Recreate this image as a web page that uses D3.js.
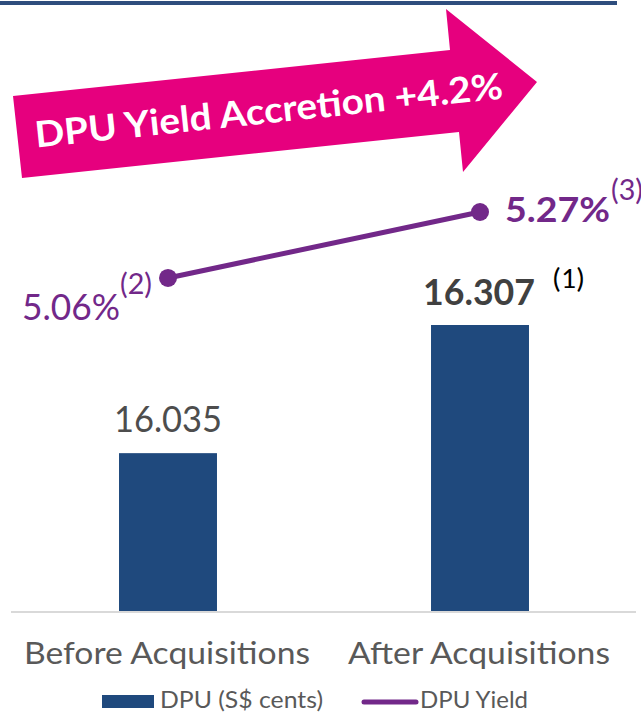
<!DOCTYPE html>
<html>
<head>
<meta charset="utf-8">
<script src="https://cdn.jsdelivr.net/npm/d3@7"></script>
<style>
  body { margin: 0; background: #fff; }
  svg { display: block; font-family: Lato, "Open Sans", sans-serif; }
</style>
</head>
<body>
<div class="graph"></div>
<script>
// chart data
var categories = ["Before Acquisitions", "After Acquisitions"];
var dpuValues = [16.035, 16.307];
var dpuLabels = ["16.035", "16.307"];
var yieldValues = [5.06, 5.27];
var yieldLabels = ["5.06%", "5.27%"];
var yieldNotes = ["(2)", "(3)"];
var legendNames = ["DPU (S$ cents)", "DPU Yield"];

var w = 641;
var h = 713;
var barColor = "#1f497d";
var lineColor = "#722889";

var svg = d3.select("div.graph")
  .append("svg")
  .attr("width", w)
  .attr("height", h);

// top rule
svg.append("rect")
  .attr("x", 0).attr("y", 1)
  .attr("width", 617).attr("height", 4)
  .attr("fill", "#2e4d7d");

var x = d3.scaleBand().domain(categories).range([12, 636]);
var y = d3.scaleLinear().domain([15.7, 16.307]).range([611, 325]);   // DPU axis (hidden)
var y2 = d3.scaleLinear().domain([4.0, 5.27]).range([611, 212]);     // yield axis (hidden)
var barW = x.bandwidth() * 0.314;
function cx(d) { return x(d) + x.bandwidth() / 2; }

// bars
svg.selectAll("rect.bar")
  .data(dpuValues)
  .enter()
  .append("rect")
  .attr("class", "bar")
  .attr("x", function(d, i) { return cx(categories[i]) - barW / 2; })
  .attr("y", function(d) { return y(d); })
  .attr("width", barW)
  .attr("height", function(d) { return y.range()[0] - y(d); })
  .attr("fill", barColor);

// baseline
svg.append("line")
  .attr("x1", 11).attr("x2", 636)
  .attr("y1", 612).attr("y2", 612)
  .attr("stroke", "#d9d9d9").attr("stroke-width", 2);

// bar labels
svg.selectAll("text.dpu")
  .data(dpuValues)
  .enter()
  .append("text")
  .attr("class", "dpu")
  .attr("x", function(d, i) { return cx(categories[i]) + (i == 1 ? -1 : 0); })
  .attr("y", function(d) { return y(d) - (d > 16.1 ? 20 : 21); })
  .attr("text-anchor", "middle")
  .attr("font-size", 36)
  .attr("font-weight", function(d, i) { return i == 1 ? "bold" : "normal"; })
  .attr("fill", function(d, i) { return i == 1 ? "#404040" : "#4d4d4d"; })
  .attr("textLength", function(d, i) { return i == 1 ? 112 : 108; })
  .attr("lengthAdjust", "spacingAndGlyphs")
  .text(function(d, i) { return dpuLabels[i]; });

svg.append("text")
  .attr("x", 552).attr("y", 288)
  .attr("font-family", "Carlito, 'Liberation Sans', sans-serif")
  .attr("font-size", 28)
  .attr("fill", "#000")
  .attr("textLength", 33)
  .attr("lengthAdjust", "spacingAndGlyphs")
  .text("(1)");

// yield line
var line = d3.line()
  .x(function(d, i) { return cx(categories[i]); })
  .y(function(d) { return y2(d); });

svg.append("path")
  .datum(yieldValues)
  .attr("d", line)
  .attr("fill", "none")
  .attr("stroke", lineColor)
  .attr("stroke-width", 5);

svg.selectAll("circle.pt")
  .data(yieldValues)
  .enter()
  .append("circle")
  .attr("class", "pt")
  .attr("cx", function(d, i) { return cx(categories[i]); })
  .attr("cy", function(d) { return y2(d); })
  .attr("r", 9)
  .attr("fill", lineColor);

// yield labels
svg.append("text")
  .attr("x", 22).attr("y", y2(yieldValues[0]) + 42)
  .attr("font-size", 36)
  .attr("fill", lineColor)
  .attr("textLength", 98)
  .attr("lengthAdjust", "spacingAndGlyphs")
  .text(yieldLabels[0]);
svg.append("text")
  .attr("x", 120).attr("y", y2(yieldValues[0]) + 16)
  .attr("font-size", 28)
  .attr("fill", lineColor)
  .attr("textLength", 32)
  .attr("lengthAdjust", "spacingAndGlyphs")
  .text(yieldNotes[0]);

svg.append("text")
  .attr("x", 505).attr("y", y2(yieldValues[1]) + 10)
  .attr("font-size", 35)
  .attr("font-weight", "bold")
  .attr("fill", lineColor)
  .attr("textLength", 105)
  .attr("lengthAdjust", "spacingAndGlyphs")
  .text(yieldLabels[1]);
svg.append("text")
  .attr("x", 611).attr("y", y2(yieldValues[1]) - 12)
  .attr("font-size", 28)
  .attr("fill", lineColor)
  .attr("textLength", 32)
  .attr("lengthAdjust", "spacingAndGlyphs")
  .text(yieldNotes[1]);

// category labels
svg.selectAll("text.cat")
  .data(categories)
  .enter()
  .append("text")
  .attr("class", "cat")
  .attr("x", function(d) { return cx(d) - 1; })
  .attr("y", 664)
  .attr("text-anchor", "middle")
  .attr("font-size", 31)
  .attr("fill", "#595959")
  .attr("textLength", function(d, i) { return i == 0 ? 286 : 262; })
  .attr("lengthAdjust", "spacingAndGlyphs")
  .text(function(d) { return d; });

// legend
svg.append("rect")
  .attr("x", 102).attr("y", 695)
  .attr("width", 52).attr("height", 13)
  .attr("fill", barColor);
svg.append("text")
  .attr("x", 160).attr("y", 708)
  .attr("font-size", 23)
  .attr("fill", "#595959")
  .attr("textLength", 163)
  .attr("lengthAdjust", "spacingAndGlyphs")
  .text(legendNames[0]);
svg.append("line")
  .attr("x1", 364).attr("x2", 416)
  .attr("y1", 702).attr("y2", 702)
  .attr("stroke", lineColor)
  .attr("stroke-width", 5)
  .attr("stroke-linecap", "round");
svg.append("text")
  .attr("x", 420).attr("y", 708)
  .attr("font-size", 23)
  .attr("fill", "#595959")
  .attr("textLength", 108)
  .attr("lengthAdjust", "spacingAndGlyphs")
  .text(legendNames[1]);

// pink arrow callout
var arrowPts = [[13, 96], [450, 50], [446, 9], [537, 82], [463, 172], [459, 132], [22, 178]];
svg.append("polygon")
  .attr("points", arrowPts.map(function(p) { return p.join(","); }).join(" "))
  .attr("fill", "#e6007e");

svg.append("text")
  .attr("transform", "translate(270,123) rotate(-6)")
  .attr("text-anchor", "middle")
  .attr("font-size", 36)
  .attr("font-weight", "bold")
  .attr("fill", "#fff")
  .attr("textLength", 470)
  .attr("lengthAdjust", "spacingAndGlyphs")
  .text("DPU Yield Accretion +4.2%");
</script>
</body>
</html>
